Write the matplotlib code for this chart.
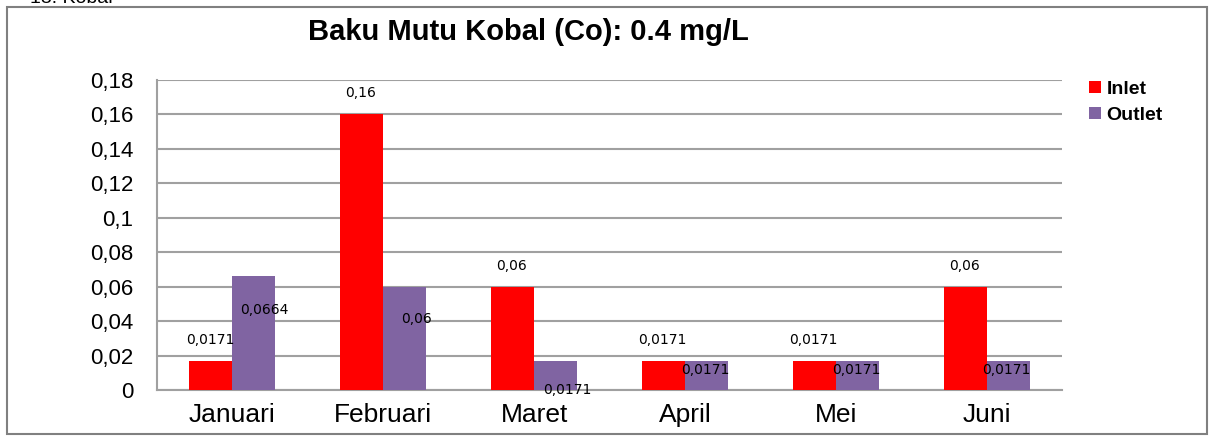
import numpy as np
import matplotlib.pyplot as plt
from matplotlib.patches import Rectangle

# Data
bulan = ['Januari', 'Februari', 'Maret', 'April', 'Mei', 'Juni']
inlet = [0.0171, 0.16, 0.06, 0.0171, 0.0171, 0.06]
outlet = [0.0664, 0.06, 0.0171, 0.0171, 0.0171, 0.0171]
inlet_label = ['0,0171', '0,16', '0,06', '0,0171', '0,0171', '0,06']
outlet_label = ['0,0664', '0,06', '0,0171', '0,0171', '0,0171', '0,0171']
y_ticks = [0, 0.02, 0.04, 0.06, 0.08, 0.1, 0.12, 0.14, 0.16, 0.18]
y_tick_labels = ['0', '0,02', '0,04', '0,06', '0,08', '0,1', '0,12', '0,14', '0,16', '0,18']

# label offsets for the outlet values (pixels), as they sit in the original
outlet_off = [(10, -34), (12, -32), (12, -29), (-1, -9), (-1, -9), (-2, -9)]

W, H = 1215, 436
fig = plt.figure(figsize=(W / 100, H / 100), dpi=100)
ax = fig.add_axes([157 / W, 1 - 390 / H, (1062 - 157) / W, (390 - 80) / H])

x = np.arange(len(bulan))
bw = 0.285
ax.bar(x - bw / 2, inlet, bw, color='#FF0000', label='Inlet', zorder=3)
ax.bar(x + bw / 2, outlet, bw, color='#8064A2', label='Outlet', zorder=3)

for i in range(len(bulan)):
    ax.annotate(inlet_label[i], (x[i] - bw / 2, inlet[i]), xytext=(-1, 21),
                textcoords='offset pixels', ha='center', va='center',
                fontsize=10, family='DejaVu Sans', zorder=4)
    ax.annotate(outlet_label[i], (x[i] + bw / 2, outlet[i]), xytext=outlet_off[i],
                textcoords='offset pixels', ha='center', va='center',
                fontsize=10, family='DejaVu Sans', zorder=4)

ax.set_xlim(-0.5, len(bulan) - 0.5)
ax.set_ylim(0, 0.18)
ax.set_yticks(y_ticks)
ax.set_yticklabels(y_tick_labels, family='Liberation Sans', fontsize=16)
ax.set_xticks(x)
ax.set_xticklabels(bulan, family='Liberation Sans', fontsize=19)
ax.tick_params(axis='y', length=0, pad=17)
ax.tick_params(axis='x', length=0, pad=9)
ax.grid(axis='y', color='#A0A0A0', linewidth=1.5, zorder=0)
for s in ['top', 'right']:
    ax.spines[s].set_visible(False)
for s in ['left', 'bottom']:
    ax.spines[s].set_color('#A0A0A0')
    ax.spines[s].set_linewidth(1.5)

fig.text(528 / W, 1 - 32 / H, 'Baku Mutu Kobal (Co): 0.4 mg/L', ha='center', va='center',
         fontsize=21, fontweight='bold', family='Liberation Sans')

fig.legend(loc='upper left', bbox_to_anchor=(1089 / W, 1 - 81 / H), frameon=False,
           prop={'family': 'Liberation Sans', 'weight': 'bold', 'size': 14},
           handlelength=0.6, handleheight=0.6, handletextpad=0.3, labelspacing=0.45,
           borderpad=0, borderaxespad=0)

# outer chart border
fig.patches.append(Rectangle((7 / W, 1 - 434 / H), (1207 - 7) / W, (434 - 7) / H,
                             transform=fig.transFigure, fill=False,
                             edgecolor='#808080', linewidth=1.5))

# cut-off heading above the chart
fig.text(30 / W, 1 - 3 / H, '13. Kobal', ha='left', va='baseline',
         fontsize=14, family='Liberation Sans')

fig.savefig('out.png', dpi=100)
